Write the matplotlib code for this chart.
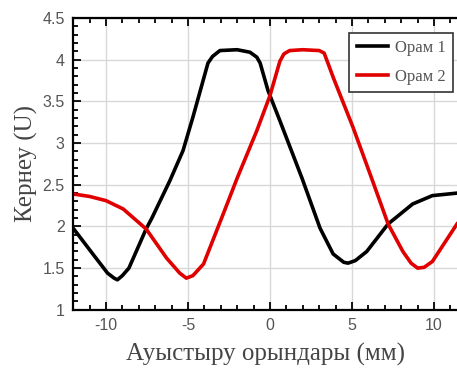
import matplotlib.pyplot as plt
from matplotlib.ticker import MultipleLocator

plt.rcParams['axes.unicode_minus'] = False

## Données

x1 = [-12, -10.8, -9.9, -9.5, -9.3, -9.0, -8.6, -7.55, -7.2, -6.1, -5.3, -4.7, -3.78, -3.5,
      -3.05, -2.0, -1.22, -0.8, -0.6, -0.12, 0.6, 1.95, 3.05, 3.85, 4.5, 4.76, 5.2, 5.9,
      7.2, 8.7, 9.9, 11.4]
y1 = [1.98, 1.67, 1.44, 1.38, 1.36, 1.41, 1.50, 1.97, 2.10, 2.55, 2.91, 3.31, 3.96, 4.04,
      4.11, 4.12, 4.09, 4.03, 3.96, 3.63, 3.27, 2.58, 1.98, 1.67, 1.57, 1.56, 1.59, 1.70,
      2.03, 2.27, 2.37, 2.40]

x2 = [-12, -11, -10.0, -8.95, -7.55, -6.3, -5.5, -5.1, -4.7, -4.05, -2.85, -2.0, -0.8, 0,
      0.6, 0.85, 1.2, 2.0, 3.0, 3.3, 3.55, 3.85, 5.06, 6.1, 7.2, 8.1, 8.6, 9.0, 9.4, 9.9, 11.4]
y2 = [2.39, 2.36, 2.31, 2.21, 1.97, 1.62, 1.44, 1.38, 1.41, 1.55, 2.15, 2.58, 3.15, 3.57,
      3.98, 4.07, 4.11, 4.12, 4.11, 4.08, 3.95, 3.79, 3.19, 2.63, 2.03, 1.70, 1.56, 1.50, 1.51,
      1.58, 2.03]

labels = ['Орам 1', 'Орам 2']

## Affichage

plt.close("all")
fig = plt.figure(figsize=(4.57, 3.76), dpi=100)
ax = fig.add_axes([0.160, 0.176, 0.840, 0.776])

ax.plot(x1, y1, color='black', lw=2.6, label=labels[0], solid_joinstyle='round')
ax.plot(x2, y2, color='#e00000', lw=2.6, label=labels[1], solid_joinstyle='round')

ax.set_xlim(-12, 11.4)
ax.set_ylim(1, 4.5)
ax.xaxis.set_major_locator(MultipleLocator(5))
ax.xaxis.set_minor_locator(MultipleLocator(1))
ax.yaxis.set_minor_locator(MultipleLocator(0.1))
ax.set_yticks([1, 1.5, 2, 2.5, 3, 3.5, 4, 4.5])
ax.set_yticklabels(['1', '1.5', '2', '2.5', '3', '3.5', '4', '4.5'])
ax.grid(True, which='major', color='#d8d8d8', lw=1.0)
ax.set_axisbelow(True)

ax.tick_params(which='both', direction='in', top=True, right=False,
               labelsize=11.5, labelcolor='#555555', width=1.3, pad=6)
ax.tick_params(which='major', length=6)
ax.tick_params(which='minor', length=3.5)
for s in ['left', 'bottom', 'top']:
    ax.spines[s].set_linewidth(1.6)
ax.spines['right'].set_visible(False)

ax.set_xlabel('Ауыстыру орындары (мм)', family='Liberation Serif', fontsize=18,
              color='#444444', labelpad=7)
ax.set_ylabel('Кернеу (U)', family='Liberation Serif', fontsize=18,
              color='#444444', labelpad=3)
for t in ax.get_xticklabels() + ax.get_yticklabels():
    t.set_family('Liberation Sans')

leg = ax.legend(loc='upper right', prop={'family': 'Liberation Serif', 'size': 12},
                fancybox=False, edgecolor='#333333', framealpha=1,
                handlelength=1.9, handletextpad=0.4, borderpad=0.45, labelspacing=0.75,
                borderaxespad=0, bbox_to_anchor=(0.99, 0.95))
leg.get_frame().set_linewidth(1.2)
for t in leg.get_texts():
    t.set_color('#555555')

plt.savefig("out.png", dpi=100)
